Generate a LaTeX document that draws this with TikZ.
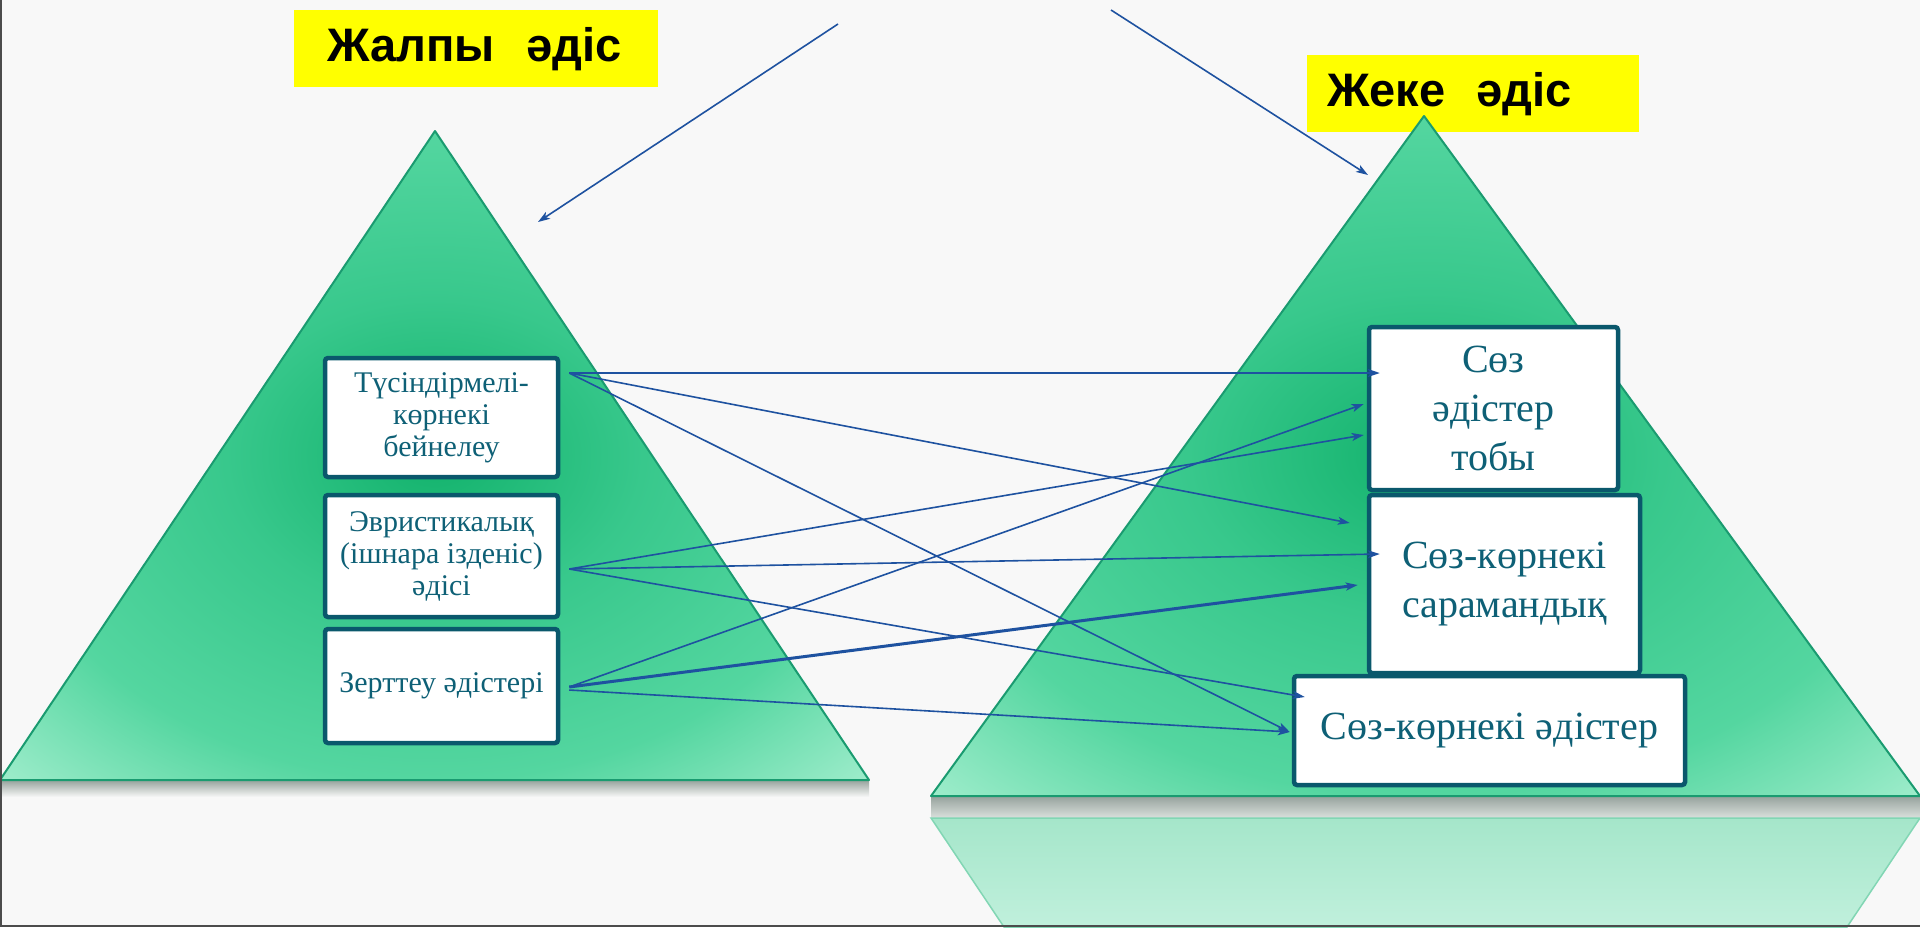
\documentclass[tikz,border=0pt]{standalone}
\usepackage{fontspec}
\setmainfont{Liberation Serif}
\newfontfamily\headfont{Liberation Sans}
\usetikzlibrary{positioning,calc,arrows.meta}
\definecolor{paper}{RGB}{248,248,248}
\definecolor{boxline}{RGB}{10,88,108}
\definecolor{boxtext}{RGB}{14,96,118}
\definecolor{linkblue}{RGB}{30,82,160}
\definecolor{pyrdark}{RGB}{18,178,108}
\definecolor{pyrmid}{RGB}{56,200,140}
\definecolor{pyrsoft}{RGB}{84,214,160}
\definecolor{pyrlight}{RGB}{170,240,210}
\definecolor{pyredge}{RGB}{26,155,112}
\definecolor{refltop}{RGB}{165,230,202}
\definecolor{reflbot}{RGB}{192,240,220}
\definecolor{refledge}{RGB}{130,214,180}
\definecolor{shadetop}{RGB}{150,162,156}
\definecolor{shadebot}{RGB}{218,224,221}
\definecolor{headyellow}{RGB}{255,255,0}
\pgfdeclareradialshading{pyramid}{\pgfpoint{0bp}{0bp}}{%
  color(0bp)=(pyrdark); color(12bp)=(pyrmid); color(25bp)=(pyrsoft);
  color(37bp)=(pyrlight); color(100bp)=(pyrlight)}
\tikzset{
  pyrfill/.style  = {shade, shading=pyramid, draw=pyredge, line width=2pt, line join=round},
  method/.style   = {rectangle, rounded corners=3pt, draw=boxline, line width=4.5pt,
                     fill=white, text=boxtext, align=center, inner sep=0pt},
  leftbox/.style  = {method, minimum width=233pt, font=\fontsize{30}{32}\selectfont},
  rightbox/.style = {method, font=\fontsize{40}{49}\selectfont},
  headbox/.style  = {fill=headyellow, inner ysep=0pt, minimum height=77pt, anchor=north west,
                     align=left, font=\headfont\bfseries\fontsize{47}{52}\selectfont},
  link/.style     = {draw=linkblue, line width=1.6pt, -{Stealth[length=12pt,width=8pt,inset=3pt]}},
  boldlink/.style = {link, line width=3pt}
}

\begin{document}
\begin{tikzpicture}[x=1pt,y=-1pt]
    \useasboundingbox (0,0) rectangle (1920,927);
    \fill[paper] (0,0) rectangle (1920,927);

    % headings
    \node[headbox, inner xsep=33pt, text width=298pt] (general) at (294,10) {\mbox{Жалпы\ \ әдіс}};
    \node[headbox, inner xsep=20pt, text width=292pt] (special) at (1307,55) {\mbox{Жеке\ \ әдіс}};

    % shadows and reflection
    \shade[top color=shadetop, bottom color=paper] (0,780) rectangle (869,797);
    \shade[top color=shadetop, bottom color=shadebot] (931,796) rectangle (1920,818);
    \shade[top color=refltop, bottom color=reflbot, draw=refledge, line width=1.5pt]
      (931,818) -- (1920,818) -- (1847,927) -- (1004,927) -- cycle;

    % pyramids
    \path[pyrfill] (435,131) -- (869,780) -- (0,780) -- cycle;
    \path[pyrfill] (1424,116) -- (1920,796) -- (931,796) -- cycle;

    % general methods (left)
    \node[leftbox, minimum height=119pt] (t1) at (441.5,417.5)
      {Түсіндірмелі-\\көрнекі\\бейнелеу};
    \node[leftbox, minimum height=122pt] (t2) at (441.5,556)
      {Эвристикалық\\(ішнара ізденіс)\\әдісі};
    \node[leftbox, minimum height=114pt] (t3) at (441.5,686)
      {Зерттеу әдістері};

    % special methods (right)
    \node[rightbox, minimum width=249pt, minimum height=163pt] (g1) at (1493.5,408.5)
      {Сөз\\әдістер\\тобы};
    \node[rightbox, minimum width=271pt, minimum height=178pt] (g2) at (1504.5,584)
      {Сөз-көрнекі\\сарамандық};
    \node[rightbox, minimum width=391pt, minimum height=109pt] (g3) at (1489.5,730.5)
      {Сөз-көрнекі әдістер};

    % top arrows
    \coordinate (in1) at (838,24);
    \coordinate (out1) at (538,222);
    \coordinate (in2) at (1111,10);
    \coordinate (out2) at (1368,175);
    \draw[link] (in1) -- (out1);
    \draw[link] (in2) -- (out2);

    % links
    \draw[link] ($(t1.east)+(9,-44.5)$) -- ($(g1.west)+(13,-35.5)$);
    \draw[link] ($(t1.east)+(9,-44.5)$) -- ($(g2.west)+(-17,-61)$);
    \draw[link] ($(t1.east)+(9,-44.5)$) -- ($(g3.west)+(-2,1.5)$);
    \draw[link] ($(t2.east)+(9,13)$) -- ($(g1.west)+(-3,26.5)$);
    \draw[link] ($(t2.east)+(9,13)$) -- ($(g2.west)+(13,-30)$);
    \draw[link] ($(t2.east)+(9,13)$) -- ($(g3.west)+(13,-33.5)$);
    \draw[link] ($(t3.east)+(9,1)$) -- ($(g1.west)+(-3,-4.5)$);
    \draw[boldlink] ($(t3.east)+(9,1)$) -- ($(g2.west)+(-9,1)$);
    \draw[link] ($(t3.east)+(9,4)$) -- ($(g3.west)+(-2,1.5)$);

    % frame
    \draw[black!70, line width=2pt] (1,0) -- (1,926) -- (1920,926);
\end{tikzpicture}
\end{document}
